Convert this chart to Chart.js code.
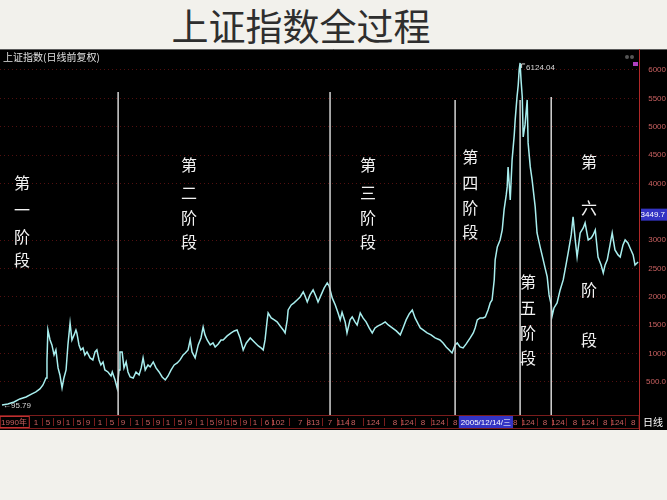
<!DOCTYPE html>
<html>
<head>
<meta charset="utf-8">
<script src="https://cdn.jsdelivr.net/npm/chart.js@4/dist/chart.umd.min.js"></script>
<style>
  body { margin: 0; background: #f2f1ec; width: 667px; height: 500px; position: relative; overflow: hidden; }
  #title { position: absolute; left: 0; top: 2px; width: 602px; text-align: center; font: 37px "Noto Sans CJK SC", sans-serif; color: #2e2e2e; line-height: 46px; }
  #panel { position: absolute; left: 0; top: 49px; width: 667px; height: 381px; background: #000; }
</style>
</head>
<body>
<div id="title">上证指数全过程</div>
<div id="panel"><canvas id="c" width="667" height="381"></canvas></div>
<script>
// index close (decimal year / points)
const years = [
  1990.81, 1991.00, 1991.20, 1991.39, 1991.59, 1991.78, 1991.91, 1992.04, 1992.14, 1992.24,
  1992.27, 1992.30, 1992.37, 1992.43, 1992.50, 1992.56, 1992.63, 1992.69, 1992.76, 1992.82,
  1992.89, 1992.95, 1993.02, 1993.08, 1993.15, 1993.21, 1993.24, 1993.31, 1993.37, 1993.44,
  1993.50, 1993.57, 1993.67, 1993.76, 1993.83, 1993.89, 1993.96, 1994.02, 1994.09, 1994.15,
  1994.25, 1994.35, 1994.39, 1994.48, 1994.55,
  1994.61, 1994.64, 1994.71, 1994.77, 1994.84, 1994.90, 1994.97, 1995.07, 1995.16, 1995.26,
  1995.33, 1995.39, 1995.46, 1995.55, 1995.62, 1995.72, 1995.81, 1995.91, 1996.01, 1996.11,
  1996.20, 1996.30, 1996.40, 1996.50, 1996.59, 1996.69, 1996.76, 1996.85, 1996.92, 1996.98,
  1997.08, 1997.18, 1997.27, 1997.34, 1997.40, 1997.47, 1997.57, 1997.66, 1997.73, 1997.83,
  1997.92, 1997.99, 1998.12, 1998.25, 1998.35, 1998.44, 1998.54, 1998.64, 1998.74, 1998.87,
  1999.00, 1999.13, 1999.22, 1999.29, 1999.35, 1999.42, 1999.45, 1999.55, 1999.65, 1999.74,
  1999.84, 1999.94, 2000.00, 2000.07, 2000.10, 2000.20, 2000.29, 2000.39, 2000.49, 2000.59,
  2000.65, 2000.72, 2000.81, 2000.91, 2001.01, 2001.07, 2001.17, 2001.27, 2001.37, 2001.43,
  2001.53, 2001.63, 2001.72, 2001.79, 2001.85, 2001.95, 2002.01, 2002.11, 2002.18, 2002.27,
  2002.34, 2002.44, 2002.53, 2002.63, 2002.73, 2002.83, 2002.92, 2003.02, 2003.15, 2003.25,
  2003.35, 2003.48, 2003.61, 2003.74, 2003.83, 2003.93, 2004.03, 2004.13, 2004.22, 2004.32,
  2004.39, 2004.48, 2004.61, 2004.74, 2004.87, 2005.03, 2005.13, 2005.23, 2005.33, 2005.42,
  2005.52, 2005.59, 2005.68, 2005.78, 2005.88, 2006.01, 2006.11, 2006.17, 2006.24, 2006.33,
  2006.43, 2006.50, 2006.59, 2006.66, 2006.72, 2006.79, 2006.82, 2006.89, 2006.98, 2007.05,
  2007.11, 2007.18, 2007.21, 2007.24, 2007.31, 2007.37, 2007.44, 2007.47, 2007.53, 2007.57,
  2007.60, 2007.63, 2007.66, 2007.70, 2007.73, 2007.79, 2007.86, 2007.89, 2007.96, 2008.02,
  2008.12, 2008.18, 2008.28, 2008.38, 2008.44, 2008.51, 2008.57, 2008.64, 2008.67, 2008.73,
  2008.83, 2008.93, 2009.03, 2009.12, 2009.19, 2009.29, 2009.35, 2009.42, 2009.48, 2009.58,
  2009.68, 2009.74, 2009.84, 2009.94, 2010.00, 2010.07, 2010.16, 2010.26, 2010.33, 2010.39,
  2010.46, 2010.55, 2010.62, 2010.71, 2010.81, 2010.88, 2010.97, 2011.04, 2011.13, 2011.20,
  2011.30, 2011.36, 2011.46
];
const closes = [
  95.79, 113, 148, 201, 236, 289, 324, 377, 448, 571,
  889, 1417, 1241, 1153, 977, 1065, 748, 624, 395, 571,
  712, 1153, 1541, 1241, 1330, 1417, 1365, 1153, 1065, 1100,
  977, 1030, 924, 889, 1030, 1065, 889, 800, 853, 712,
  677, 606, 677, 536, 390,
  712, 1030, 1030, 748, 853, 677, 589, 571, 677, 624,
  748, 924, 712, 800, 765, 853, 748, 677, 589, 536,
  606, 712, 800, 836, 889, 977, 1012, 1065, 1241, 1030,
  924, 1153, 1276, 1470, 1330, 1241, 1153, 1188, 1118, 1171,
  1241, 1241, 1312, 1365, 1400, 1417, 1276, 1065, 1188, 1276,
  1206, 1135, 1100, 1065, 1241, 1594, 1717, 1629, 1594, 1559,
  1488, 1417, 1365, 1594, 1770, 1858, 1894, 1946, 1999, 2088,
  2017, 1911, 2035, 2123, 1999, 1911, 2035, 2158, 2246, 2193,
  1982, 1858, 1717, 1594, 1730, 1559, 1365, 1594, 1647, 1559,
  1506, 1717, 1629, 1559, 1453, 1365, 1453, 1488, 1523, 1559,
  1506, 1453, 1400, 1330, 1453, 1594, 1700, 1770, 1629, 1523,
  1453, 1417, 1365, 1330, 1276, 1241, 1188, 1118, 1065, 1012,
  1153, 1188, 1118, 1100, 1171, 1276, 1365, 1453, 1594, 1629,
  1629, 1647, 1770, 1894, 1946, 2299, 2652, 2881, 3004, 3180,
  3533, 3797, 3939, 4291, 3709, 4415, 4856, 5120, 5525, 5737,
  6001, 6124.04, 5825, 5525, 4820, 5032, 5472, 4715, 4291, 4062,
  3586, 3127, 2881, 2652, 2511, 2352, 2035, 1858, 1664, 1805,
  1894, 2123, 2299, 2563, 2775, 3092, 3410, 3004, 2704, 3127,
  3216, 3304, 3004, 3039, 3092, 3180, 2704, 2563, 2422, 2563,
  2652, 2916, 3127, 2828, 2740, 2704, 2916, 3004, 2951, 2863,
  2740, 2563, 2616
];

const yTicks = [500, 1000, 1500, 2000, 2500, 3000, 4000, 4500, 5000, 5500, 6000];
const yTickLabels = ['500.0', '1000', '1500', '2000', '2500', '3000', '4000', '4500', '5000', '5500', '6000'];
const cursorValue = 3449.7;

const tickYears = [1991.20, 1991.91, 1992.30, 1992.66, 1992.95, 1993.31, 1993.60, 1993.99, 1994.38, 1994.74,
  1995.19, 1995.55, 1995.87, 1996.20, 1996.59, 1996.91, 1997.30, 1997.63, 1997.89, 1998.15,
  1998.37, 1998.70, 1999.02, 1999.41, 1999.77, 2000.49, 2000.91, 2001.46, 2001.88, 2002.21,
  2002.86, 2003.57, 2003.96, 2004.48, 2004.97, 2005.52, 2006.52, 2007.47, 2007.89, 2008.44,
  2008.86, 2009.41, 2009.84, 2010.39, 2010.78, 2011.30];
const tickLabels = ['1990年', '1', '5', '9', '1', '5', '9', '1', '5', '9',
  '1', '5', '9', '1', '5', '9', '1', '5', '9', '1',
  '5', '9', '1', '6', '102', '7', '813', '7', '114', '8',
  '124', '8', '124', '8', '124', '8', '2005/12/14/三', '8', '124', '8',
  '124', '8', '124', '8', '124', '8'];
const hiTick = 36;

const stageLineYears = [1994.58, 2001.46, 2005.52, 2007.63, 2008.64];
const stageLineTops = [5613, 5613, 5472, 5472, 5525];
const stageNames = ['第一阶段', '第二阶段', '第三阶段', '第四阶段', '第五阶段', '第六阶段'];
const stageYears = [1991.46, 1996.88, 2002.69, 2006.01, 2007.89, 2009.87];
const stageCharValues = [
  [4009, 3533, 3057, 2652],
  [4326, 3833, 3392, 2969],
  [4326, 3833, 3392, 2969],
  [4468, 4009, 3568, 3145],
  [2264, 1805, 1364, 924],
  [4380, 3568, 2123, 1241]
];

const RED = '#b02828';
const LABEL = '#c86060';
const SMALL = '8px "Liberation Sans", sans-serif';

const overlay = {
  id: 'overlay',
  beforeDraw(chart) {
    const { ctx, chartArea: a, scales: { x } } = chart;
    const top = a.bottom;
    ctx.save();
    ctx.strokeStyle = '#7a1c1c';
    ctx.lineWidth = 1;
    ctx.strokeRect(0.5, top + 0.5, a.right - 0.5, 13);
    ctx.beginPath();
    for (let i = 2; i < tickYears.length; i++) {
      if (i === hiTick || i === hiTick + 1) continue;
      const px = Math.round((x.getPixelForValue(tickYears[i]) + x.getPixelForValue(tickYears[i - 1])) / 2) + 0.5;
      ctx.moveTo(px, top + 3);
      ctx.lineTo(px, top + 11);
    }
    ctx.stroke();
    // boxed first cell and highlighted date cell
    ctx.font = SMALL;
    const fx = x.getPixelForValue(tickYears[0]);
    const fw = ctx.measureText(tickLabels[0]).width + 4;
    ctx.strokeStyle = '#c03030';
    ctx.strokeRect(Math.round(fx - fw / 2) + 0.5, top + 1.5, fw, 11);
    const hx = x.getPixelForValue(tickYears[hiTick]);
    const w = ctx.measureText(tickLabels[hiTick]).width + 4;
    ctx.fillStyle = '#3434c4';
    ctx.fillRect(hx - w / 2, top + 1, w, 12);
    ctx.restore();
  },
  afterDatasetsDraw(chart) {
    const { ctx, chartArea: a, scales: { x, y } } = chart;
    ctx.save();
    // stage separators
    ctx.strokeStyle = '#d4d4d4';
    ctx.lineWidth = 1.5;
    stageLineYears.forEach((v, i) => {
      const px = x.getPixelForValue(v);
      ctx.beginPath();
      ctx.moveTo(px, y.getPixelForValue(stageLineTops[i]));
      ctx.lineTo(px, a.bottom);
      ctx.stroke();
    });
    // stage labels, one character per line
    ctx.fillStyle = '#f2f2f2';
    ctx.font = '16px "Noto Sans CJK SC", sans-serif';
    ctx.textAlign = 'center';
    ctx.textBaseline = 'middle';
    stageNames.forEach((name, i) => {
      const px = x.getPixelForValue(stageYears[i]);
      [...name].forEach((ch, j) => ctx.fillText(ch, px, y.getPixelForValue(stageCharValues[i][j])));
    });
    // peak and start marks
    ctx.font = SMALL;
    ctx.fillStyle = '#d8d8d8';
    ctx.strokeStyle = '#d8d8d8';
    ctx.lineWidth = 1;
    ctx.textAlign = 'left';
    const maxI = closes.indexOf(Math.max(...closes));
    const pkx = x.getPixelForValue(years[maxI]), pky = y.getPixelForValue(closes[maxI]);
    ctx.beginPath();
    ctx.moveTo(pkx + 1.5, pky + 5);
    ctx.lineTo(pkx + 1.5, pky + 1);
    ctx.lineTo(pkx + 5, pky + 1);
    ctx.stroke();
    ctx.fillText(closes[maxI].toFixed(2), pkx + 6, pky + 5);
    const sx = x.getPixelForValue(years[0]), sy = y.getPixelForValue(closes[0]);
    ctx.fillText('←' + closes[0].toFixed(2), sx + 1, sy + 1);
    ctx.restore();
  },
  afterDraw(chart) {
    const { ctx, chartArea: a, scales: { y } } = chart;
    ctx.save();
    ctx.strokeStyle = '#5a5a5a';
    ctx.lineWidth = 1;
    ctx.beginPath();
    ctx.moveTo(0, 0.5);
    ctx.lineTo(chart.width, 0.5);
    ctx.stroke();
    ctx.strokeStyle = RED;
    ctx.beginPath();
    ctx.moveTo(a.right + 0.5, 0);
    ctx.lineTo(a.right + 0.5, chart.height);
    ctx.stroke();
    ctx.fillStyle = '#e0e0e0';
    ctx.font = '10px "Noto Sans CJK SC", sans-serif';
    ctx.textBaseline = 'middle';
    ctx.fillText('上证指数(日线前复权)', 3, 8);
    // cursor value box on the price axis
    const cy = y.getPixelForValue(cursorValue);
    ctx.fillStyle = '#3434c4';
    ctx.fillRect(a.right + 2, cy - 6, chart.width - a.right - 2, 12);
    ctx.fillStyle = '#ffffff';
    ctx.font = SMALL;
    ctx.textAlign = 'right';
    ctx.fillText(String(cursorValue), chart.width - 2, cy);
    ctx.font = '10px "Noto Sans CJK SC", sans-serif';
    ctx.textAlign = 'center';
    ctx.fillText('日线', (a.right + chart.width) / 2, a.bottom + 7);
    // small window icons
    ctx.fillStyle = '#555';
    ctx.beginPath();
    ctx.arc(a.right - 12, 8, 2, 0, Math.PI * 2);
    ctx.arc(a.right - 7, 8, 2, 0, Math.PI * 2);
    ctx.fill();
    ctx.fillStyle = '#b040c0';
    ctx.fillRect(a.right - 6, 13, 5, 4);
    ctx.restore();
  }
};

new Chart(document.getElementById('c'), {
  type: 'line',
  data: {
    datasets: [{
      data: years.map((v, i) => ({ x: v, y: closes[i] })),
      borderColor: '#a8eeee',
      borderWidth: 1.5,
      pointRadius: 0,
      tension: 0,
      fill: false
    }]
  },
  options: {
    responsive: false,
    animation: false,
    layout: { padding: { top: 3, left: 0, right: 1, bottom: 1 } },
    plugins: { legend: { display: false }, tooltip: { enabled: false } },
    scales: {
      x: {
        type: 'linear',
        min: 1990.745,
        max: 2011.49,
        afterBuildTicks: s => { s.ticks = tickYears.map(v => ({ value: v })); },
        afterFit: s => { s.height = 14; s.paddingLeft = 0; s.paddingRight = 0; },
        grid: { display: false, drawTicks: false },
        border: { display: false },
        ticks: {
          autoSkip: false,
          maxRotation: 0,
          minRotation: 0,
          padding: 3,
          font: { family: '"Liberation Sans", "Noto Sans CJK SC", sans-serif', size: 8 },
          color: c => (c.index === hiTick ? '#ffffff' : LABEL),
          callback: (v, i) => tickLabels[i]
        }
      },
      y: {
        position: 'right',
        min: -82,
        max: 6317,
        afterBuildTicks: s => { s.ticks = yTicks.map(v => ({ value: v })); },
        afterFit: s => { s.width = 27; s.paddingTop = 0; s.paddingBottom = 0; },
        grid: { color: 'rgba(150,30,30,0.55)', drawTicks: false },
        border: { color: RED, dash: [1, 3] },
        ticks: {
          crossAlign: 'far',
          font: { family: '"Liberation Sans", sans-serif', size: 8 },
          color: LABEL,
          callback: (v, i) => yTickLabels[i]
        }
      }
    }
  },
  plugins: [overlay]
});
</script>
</body>
</html>
